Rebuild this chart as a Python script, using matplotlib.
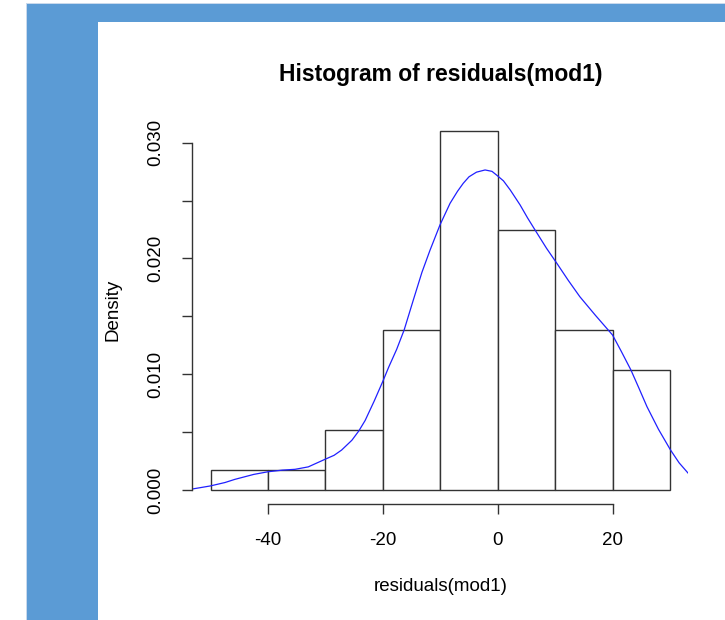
import matplotlib

matplotlib.use("Agg")
import matplotlib.pyplot as plt
from matplotlib.patches import Rectangle
import numpy as np

# ── Data ─────────────────────────────────────────────────────────────

bin_edges = [-50, -40, -30, -20, -10, 0, 10, 20, 30]
bin_counts = [1, 1, 3, 8, 18, 13, 8, 6]

# density curve
kde_x = [-53.2, -50.1, -47.5, -45.8, -42.5, -40.0, -37.5, -35.3, -33.0,
         -30.1, -28.5, -27.2, -25.4, -24.2, -23.1, -21.5, -20.0, -19.0,
         -17.6, -16.3, -14.7, -13.2, -11.8, -10.05, -8.3, -7.0, -6.0,
         -5.0, -3.7, -2.2, -1.0, -0.07, 1.0, 2.2, 3.9, 5.2, 6.5, 8.5,
         10.3, 12.3, 14.3, 17.0, 20.0, 21.5, 23.2, 24.6, 26.0, 28.0, 30.1,
         31.6, 33.2]
kde_y = [0.00009, 0.00035, 0.00065, 0.00092, 0.00135, 0.00158, 0.00172,
         0.00179, 0.00200, 0.00265, 0.00300, 0.00345, 0.00430, 0.00510,
         0.00600, 0.00770, 0.00940, 0.01060, 0.01215, 0.01382, 0.01641,
         0.01880, 0.02070, 0.02290, 0.02476, 0.02580, 0.02649, 0.02705,
         0.02745, 0.02764, 0.02752, 0.02715, 0.02670, 0.02590, 0.02462,
         0.02350, 0.02246, 0.02088, 0.01958, 0.01810, 0.01670, 0.01510,
         0.01339, 0.01200, 0.01037, 0.00880, 0.00720, 0.00525, 0.00346,
         0.00235, 0.00144]

x_ticks = [-40, -20, 0, 20]
y_ticks = [0.000, 0.005, 0.010, 0.015, 0.020, 0.025, 0.030]
y_tick_labels = ["0.000", "", "0.010", "", "0.020", "", "0.030"]

# ── Figure ────────────────────────────────────────────────────────────

plt.rcParams["font.family"] = ["Liberation Sans", "DejaVu Sans"]

W, H = 725, 620
fig = plt.figure(figsize=(W / 100, H / 100), dpi=100)


def px_rect(x0, y0, x1, y1, **kw):
    """Rectangle given in pixel coords (origin top-left)."""
    return Rectangle((x0 / W, 1 - y1 / H), (x1 - x0) / W, (y1 - y0) / H,
                     transform=fig.transFigure, **kw)


# blue frame of the screenshot
blue = "#5B9BD5"
fig.patches.append(px_rect(26.7, 4, 97.7, H, facecolor=blue, linewidth=0))
fig.patches.append(px_rect(26.7, 4, W, 21.7, facecolor=blue, linewidth=0))
fig.patches.append(px_rect(25.7, 3, 26.7, H, facecolor="#c9d9ec", linewidth=0))
fig.patches.append(px_rect(25.7, 3, W, 4, facecolor="#c9d9ec", linewidth=0))

left, right, top, bottom = 192.3, 688.3, 116.0, 504.4
ax = fig.add_axes([left / W, 1 - bottom / H, (right - left) / W,
                   (bottom - top) / H])

n = sum(bin_counts)
widths = np.diff(bin_edges)
density = np.array(bin_counts) / (n * widths)

ax.bar(bin_edges[:-1], density, width=widths, align="edge",
       facecolor="white", edgecolor="#333333", linewidth=1.0)
ax.plot(kde_x, kde_y, color="#2020ff", linewidth=0.9,
        solid_joinstyle="round")

ax.set_xlim(-53.2, 33.2)
ax.set_ylim(-0.00124, 0.0323)

for side in ("top", "right"):
    ax.spines[side].set_visible(False)
ax.spines["left"].set_bounds(0, 0.03)
ax.spines["bottom"].set_bounds(-40, 20)
for side in ("left", "bottom"):
    ax.spines[side].set_linewidth(1.0)
    ax.spines[side].set_color("#333333")

ax.set_xticks(x_ticks)
ax.set_xticklabels([str(t) for t in x_ticks])
ax.set_yticks(y_ticks)
ax.set_yticklabels(y_tick_labels, rotation=90, va="center")
ax.tick_params(axis="both", direction="out", length=7.5, width=1.0,
               color="#333333", labelsize=13.5, pad=12.5)

ax.set_xlabel("residuals(mod1)", fontsize=13.5)
ax.set_ylabel("Density", fontsize=13.5)
ax.xaxis.set_label_coords(0.5, -0.19)
ax.yaxis.set_label_coords(-0.142, 0.5)

ax.set_title("Histogram of residuals(mod1)", fontsize=16.5,
             fontweight="bold", pad=25.5)

fig.savefig("out.png", dpi=100)
plt.close(fig)
